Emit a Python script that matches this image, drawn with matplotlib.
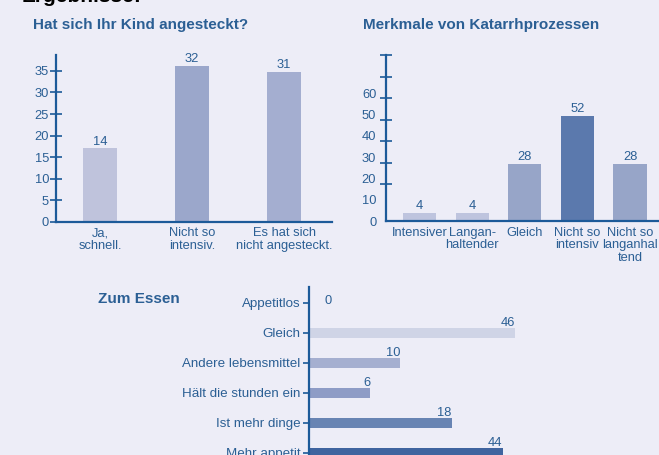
import matplotlib.pyplot as plt

# Hat sich Ihr Kind angesteckt?
kat1 = ['Ja,\nschnell.', 'Nicht so\nintensiv.', 'Es hat sich\nnicht angesteckt.']
hoehe1 = [17, 36.2, 34.8]
wert1 = [14, 32, 31]
farben1 = ['#bfc3dc', '#9ba7cb', '#a4aed0']

# Merkmale von Katarrhprozessen
kat2 = ['Intensiver', 'Langan-\nhaltender', 'Gleich', 'Nicht so\nintensiv', 'Nicht so\nlanganhal\ntend']
wert2 = [4, 4, 28, 52, 28]
farben2 = ['#bec4de', '#bec4de', '#97a5c8', '#5b79ad', '#97a5c8']
yt2 = [0, 10, 20, 30, 40, 50, 60]

# Zum Essen
kat3 = ['Appetitlos', 'Gleich', 'Andere lebensmittel', 'Hält die stunden ein', 'Ist mehr dinge', 'Mehr appetit']
laenge3 = [0, 46, 20.4, 13.7, 31.9, 43.3]
wert3 = [0, 46, 10, 6, 18, 44]
farben3 = ['#cfd4e6', '#cfd4e6', '#a5afd0', '#8e9cc6', '#6884b3', '#3f649f']

bg = '#ededf7'
achse = '#1c5a99'
text = '#2b5f94'
fs = 9.3
plt.rcParams['font.family'] = ['Liberation Sans', 'DejaVu Sans']

fig = plt.figure(figsize=(6.59, 4.55), dpi=100, facecolor=bg)
W, H = 659, 455


def ax_px(l, t, r, b):
    return fig.add_axes([l / W, 1 - b / H, (r - l) / W, (b - t) / H])


def stil(ax):
    ax.set_facecolor('none')
    for s in ['top', 'right']:
        ax.spines[s].set_visible(False)
    for s in ['left', 'bottom']:
        ax.spines[s].set_color(achse)
        ax.spines[s].set_linewidth(1.6)
    ax.tick_params(colors=achse, labelcolor=text, labelsize=fs, width=1.2)


fig.text(22 / W, 1 - 2 / H, 'Ergebnisse:', fontsize=15, fontweight='bold', color='black')

# --- Diagramm 1
ax1 = ax_px(56, 55, 332, 221.7)
stil(ax1)
ax1.bar(range(3), hoehe1, width=0.37, color=farben1)
for i, (h, v) in enumerate(zip(hoehe1, wert1)):
    ax1.text(i, h + 0.2, str(v), ha='center', va='bottom', fontsize=fs, color=text)
ax1.set_xlim(-0.48, 2.52)
ax1.set_ylim(0, 38.7)
ax1.set_yticks(range(0, 40, 5))
ax1.tick_params(axis='y', direction='inout', length=8, pad=1)
ax1.set_xticks(range(3))
ax1.set_xticklabels(kat1, linespacing=1.1)
ax1.tick_params(axis='x', length=0, pad=4)
fig.text(33 / W, 1 - 25 / H, 'Hat sich Ihr Kind angesteckt?', fontsize=11, fontweight='bold',
         color=text, va='center')

# --- Diagramm 2
ax2 = ax_px(386, 55, 700, 221)
stil(ax2)
ax2.bar(range(5), wert2, width=0.63, color=farben2)
for i, v in enumerate(wert2):
    ax2.text(i, v + 0.6, str(v), ha='center', va='bottom', fontsize=fs, color=text)
ax2.set_xlim(-0.64, 5.33)
ax2.set_ylim(0, 82.2)
ax2.set_yticks([v * 1.055 for v in yt2])
ax2.set_yticklabels([str(v) for v in yt2])
ax2.set_yticks([18.3 + 10.65 * k for k in range(7)], minor=True)
ax2.tick_params(axis='y', which='major', length=0, pad=7)
ax2.tick_params(axis='y', which='minor', direction='inout', length=8, width=1.2, color=achse)
ax2.set_xticks(range(5))
ax2.set_xticklabels(kat2, linespacing=1.1)
ax2.tick_params(axis='x', length=0, pad=4)
fig.text(363 / W, 1 - 25 / H, 'Merkmale von Katarrhprozessen', fontsize=11, fontweight='bold',
         color=text, va='center')

# --- Diagramm 3
ax3 = ax_px(309, 287, 659, 468)
stil(ax3)
ax3.spines['bottom'].set_visible(False)
ax3.barh(range(6), laenge3, height=0.33, color=farben3)
for i, (l, v) in enumerate(zip(laenge3, wert3)):
    if v == 0:
        ax3.text(5, i - 0.05, str(v), ha='right', va='center', fontsize=fs, color=text)
    else:
        ax3.text(l, i - 0.12, str(v), ha='right', va='bottom', fontsize=fs, color=text)
ax3.set_xlim(0, 78.3)
ax3.set_ylim(5.5, -0.53)
ax3.set_xticks([])
ax3.set_yticks(range(6))
ax3.set_yticklabels(kat3)
ax3.tick_params(axis='y', length=4, pad=2, labelsize=9.6)
fig.text(98 / W, 1 - 299 / H, 'Zum Essen', fontsize=11, fontweight='bold', color=text, va='center')

fig.savefig('out.png', dpi=100, facecolor=bg)
